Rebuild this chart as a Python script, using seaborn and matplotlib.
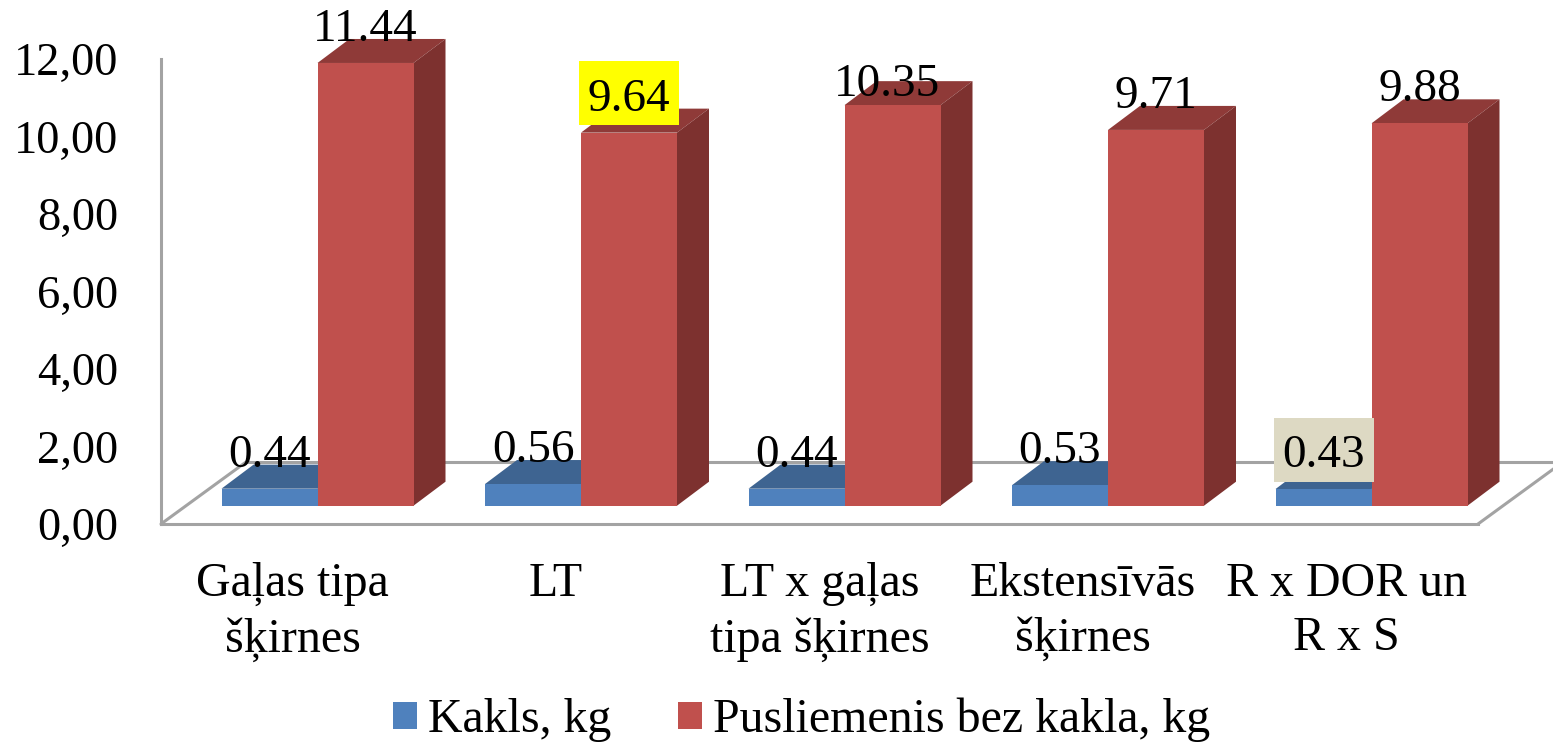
import matplotlib
matplotlib.use("Agg")
import matplotlib.pyplot as plt
import pandas as pd
import seaborn as sns
from matplotlib.patches import Polygon, Rectangle, Patch
from matplotlib.lines import Line2D
from matplotlib.transforms import IdentityTransform

categories = ["Gaļas tipa\nšķirnes", "LT", "LT x gaļas\ntipa šķirnes", "Ekstensīvās\nšķirnes", "R x DOR un\nR x S"]
series_names = ["Kakls, kg", "Pusliemenis bez kakla, kg"]
kakls = [0.44, 0.56, 0.44, 0.53, 0.43]
pusliemenis = [11.44, 9.64, 10.35, 9.71, 9.88]
y_ticks = [0, 2, 4, 6, 8, 10, 12]
y_tick_labels = ["0,00", "2,00", "4,00", "6,00", "8,00", "10,00", "12,00"]
label_boxes = {(0, 4): "#DDD9C3", (1, 1): "#FFFF00"}
label_nudges = {(1, 2): (-5, -13)}

W, H, DPI = 1553, 742, 100
FS_TICK = 33.5
FS_LABEL = 34
FS_TEXT = 34.5
GREY = "#A3A3A3"
FRONT = ["#4F81BD", "#C0504D"]
TOP = ["#3E6491", "#8F3A38"]
SIDE = ["#35567D", "#7D312F"]
DX, DY = 32, 24          # bar depth, px
FLOOR_DX, FLOOR_DY = 85, 62

sns.set_theme(style="white")
plt.rcParams["font.family"] = ["Liberation Serif", "DejaVu Serif"]
plt.rcParams["text.color"] = "black"

df = pd.DataFrame({
    "cat": categories * 2,
    "series": [series_names[0]] * 5 + [series_names[1]] * 5,
    "value": kakls + pusliemenis,
})

fig = plt.figure(figsize=(W / DPI, H / DPI), dpi=DPI)

def box(left, right, top_y, bottom_y):
    return [left / W, 1 - bottom_y / H, (right - left) / W, (bottom_y - top_y) / H]

# Wall / floor frame with the axis text
wall = fig.add_axes(box(161, 1478, 59, 524))
wall.set_xlim(-0.5, 4.5)
wall.set_ylim(0, 12)
wall.set_xticks(range(5), categories)
wall.set_yticks(y_ticks, y_tick_labels)
wall.tick_params(axis="y", length=0, pad=31, labelsize=FS_TICK, colors="black")
wall.tick_params(axis="x", length=0, pad=27, labelsize=FS_TEXT, colors="black")
for lab in wall.get_xticklabels():
    lab.set_linespacing(1.32)
for s in ["top", "right"]:
    wall.spines[s].set_visible(False)
for s in ["left", "bottom"]:
    wall.spines[s].set_color(GREY)
    wall.spines[s].set_linewidth(2.2)
wall.patch.set_alpha(0)
fig.canvas.draw()
(x0, y0) = wall.transAxes.transform((0, 0))
(x1, _) = wall.transAxes.transform((1, 0))
floor = [[(x0, y0), (x0 + FLOOR_DX, y0 + FLOOR_DY)],
         [(x0 + FLOOR_DX, y0 + FLOOR_DY), (x1 + FLOOR_DX, y0 + FLOOR_DY)],
         [(x1, y0), (x1 + FLOOR_DX, y0 + FLOOR_DY)]]
for seg in floor:
    xs, ys = zip(*seg)
    wall.add_line(Line2D(xs, ys, color=GREY, lw=2.2, transform=IdentityTransform(),
                         clip_on=False, zorder=0.5, solid_capstyle="round"))

# Bars
ax = fig.add_axes(box(185.75, 1503.25, 505.7 - 12 * 38.7, 505.7))
ax.patch.set_alpha(0)
sns.barplot(data=df, x="cat", y="value", hue="series", palette=FRONT, saturation=1,
            width=192 / 263.5, gap=0, legend=False, ax=ax)
ax.set_xlim(-0.5, 4.5)
ax.set_ylim(0, 12)
ax.autoscale(False)
ax.axis("off")
fig.canvas.draw()

for s_i, cont in enumerate(ax.containers):
    for c_i, bar in enumerate(cont):
        bar.set_zorder(3)
        bar.set_linewidth(0)
        val = bar.get_height()
        (xl, yb) = ax.transData.transform((bar.get_x(), 0))
        (xr, yt) = ax.transData.transform((bar.get_x() + bar.get_width(), val))
        ax.add_patch(Polygon([(xl, yt), (xr, yt), (xr + DX, yt + DY), (xl + DX, yt + DY)],
                             closed=True, fc=TOP[s_i], ec="none", transform=IdentityTransform(),
                             clip_on=False, zorder=1 + s_i))
        ax.add_patch(Polygon([(xr, yb), (xr, yt), (xr + DX, yt + DY), (xr + DX, yb + DY)],
                             closed=True, fc=SIDE[s_i], ec="none", transform=IdentityTransform(),
                             clip_on=False, zorder=1 + s_i))
        ndx, ndy = label_nudges.get((s_i, c_i), (0, 0))
        cx = (xl + xr) / 2 + ndx
        base = yt + 22 + ndy
        if (s_i, c_i) in label_boxes:
            ax.add_patch(Rectangle((cx - 50, base - 14.5), 100, 64, fc=label_boxes[(s_i, c_i)], ec="none",
                                   transform=IdentityTransform(), clip_on=False, zorder=4))
        ax.text(cx, base, f"{val:.2f}", transform=IdentityTransform(), ha="center", va="baseline",
                fontsize=FS_LABEL, color="black", zorder=5, clip_on=False)

handles = [Patch(fc=FRONT[0], ec="none"), Patch(fc=FRONT[1], ec="none")]
fig.legend(handles, series_names, loc="center", bbox_to_anchor=(801.5 / W, 1 - 720 / H),
           ncols=2, frameon=False, fontsize=FS_TEXT, handlelength=0.5, handleheight=0.5,
           handletextpad=0.24, columnspacing=1.38, borderpad=0, borderaxespad=0)

fig.savefig("out.png", dpi=DPI)
